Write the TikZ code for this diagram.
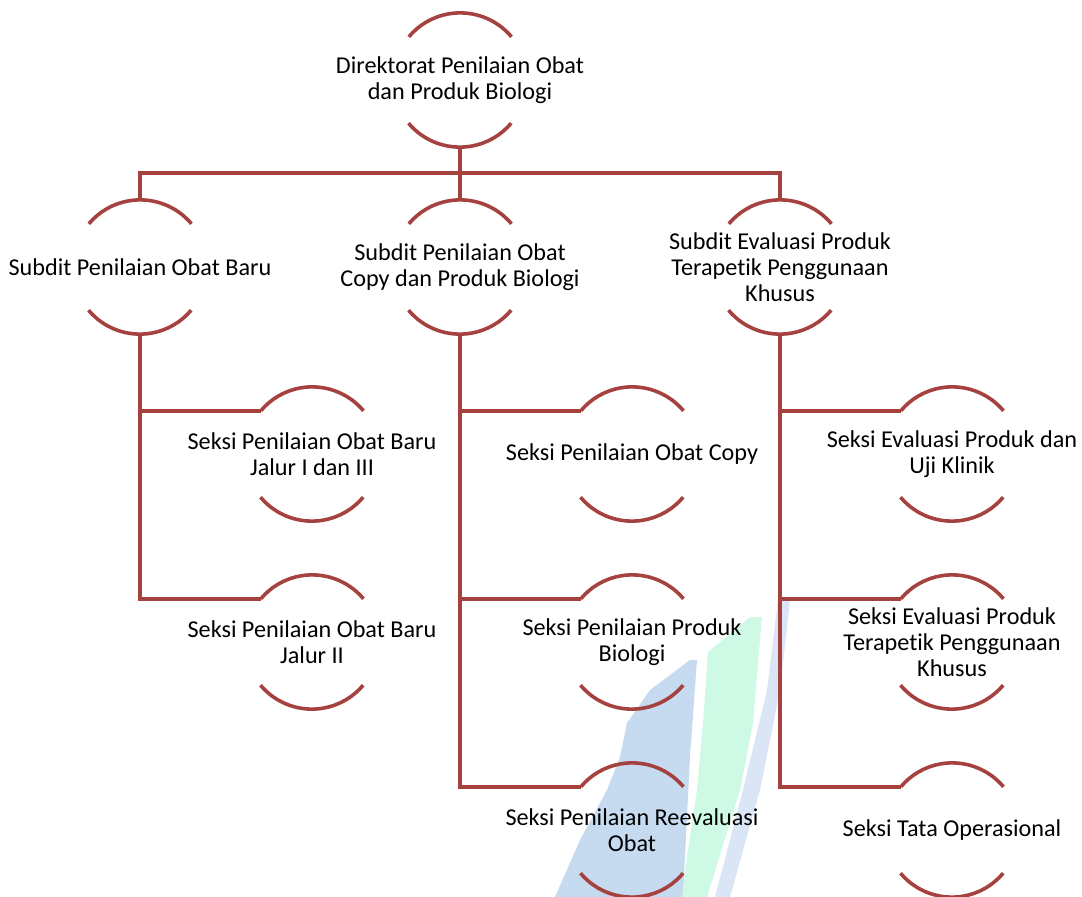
\documentclass[tikz,border=0pt]{standalone}
\usepackage{fontspec}
\setmainfont{Carlito}[Ligatures=NoCommon]
\definecolor{orgred}{RGB}{165,65,62}
\definecolor{wmblue}{RGB}{198,218,240}
\definecolor{wmgreen}{RGB}{206,250,229}
\definecolor{wmpale}{RGB}{218,229,245}
\tikzset{
  unit/.style={circle,minimum size=134pt,inner sep=0pt,
    label={[unittext]center:#1}},
  unittext/.style={align=center,inner sep=0pt,
    font=\fontsize{24.2}{26}\selectfont},
  link/.style={orgred,line width=3.6pt},
  rim/.style={orgred,line width=3.6pt}
}
\begin{document}
\begin{tikzpicture}[x=1pt,y=1pt]
  \useasboundingbox (0,0) rectangle (1082,-897);
  % watermark in the background
  \fill[wmblue]  (690,-660) -- (697,-660) -- (690,-757) -- (683,-897) -- (555,-897)
                 -- (580,-840) -- (607,-790) -- (620,-757) -- (627,-723) -- (650,-690) -- cycle;
  \fill[wmgreen] (708,-652) -- (750,-617) -- (762,-617) -- (753,-723) -- (740,-790)
                 -- (707,-897) -- (682,-897) -- (687,-857) -- (697,-790) -- (703,-723) -- cycle;
  \fill[wmpale]  (778,-600) -- (790,-600) -- (780,-690) -- (760,-790) -- (730,-897)
                 -- (715,-897) -- (743,-790) -- (767,-690) -- cycle;
  % units
  \node[unit={Direktorat Penilaian Obat\\dan Produk Biologi}]        (dir)  at (460,-80)  {};
  \node[unit={Subdit Penilaian Obat Baru}]                           (sub1) at (140,-267) {};
  \node[unit={Subdit Penilaian Obat\\Copy dan Produk Biologi}]       (sub2) at (460,-267) {};
  \node[unit={Subdit Evaluasi Produk\\Terapetik Penggunaan\\Khusus}] (sub3) at (780,-267) {};
  \node[unit={Seksi Penilaian Obat Baru\\Jalur I dan III}]           (s11)  at (312,-454) {};
  \node[unit={Seksi Penilaian Obat Baru\\Jalur II}]                  (s12)  at (312,-642) {};
  \node[unit={Seksi Penilaian Obat Copy}]                            (s21)  at (632,-454) {};
  \node[unit={Seksi Penilaian Produk\\Biologi}]                      (s22)  at (632,-642) {};
  \node[unit={Seksi Penilaian Reevaluasi\\Obat}]                     (s23)  at (632,-830) {};
  \node[unit={Seksi Evaluasi Produk dan\\Uji Klinik}]                (s31)  at (952,-454) {};
  \node[unit={Seksi Evaluasi Produk\\Terapetik Penggunaan\\Khusus}]  (s32)  at (952,-642) {};
  \node[unit={Seksi Tata Operasional}]                               (s33)  at (952,-830) {};
  \foreach \n in {dir,sub1,sub2,sub3,s11,s12,s21,s22,s23,s31,s32,s33}
    \draw[rim] (\n.40) arc[start angle=40,end angle=140,radius=67pt]
               (\n.220) arc[start angle=220,end angle=320,radius=67pt];
  % connectors
  \coordinate (bus) at (460,-173);
  \draw[link] (dir.south) -- (bus) -- (sub2.north);
  \draw[link] (sub1.north) |- (bus) -| (sub3.north);
  \draw[link] (sub1.south) |- (s11.140);
  \draw[link] (sub1.south) |- (s12.140);
  \draw[link] (sub2.south) |- (s21.140);
  \draw[link] (sub2.south) |- (s22.140);
  \draw[link] (sub2.south) |- (s23.140);
  \draw[link] (sub3.south) |- (s31.140);
  \draw[link] (sub3.south) |- (s32.140);
  \draw[link] (sub3.south) |- (s33.140);
\end{tikzpicture}
\end{document}
